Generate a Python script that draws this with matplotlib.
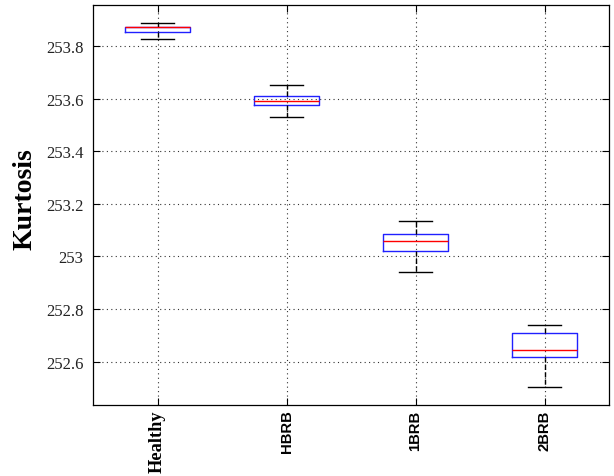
import matplotlib
matplotlib.use("Agg")
from matplotlib import pyplot as plt

# values
categories = ["Healthy", "HBRB", "1BRB", "2BRB"]
whis_lo = [253.827, 253.531, 252.939, 252.504]
q1 = [253.853, 253.574, 253.019, 252.616]
medians = [253.872, 253.592, 253.060, 252.643]
q3 = [253.874, 253.610, 253.084, 252.708]
whis_hi = [253.888, 253.652, 253.134, 252.738]
y_ticks = [252.6, 252.8, 253.0, 253.2, 253.4, 253.6, 253.8]
y_tick_labels = ["252.6", "252.8", "253", "253.2", "253.4", "253.6", "253.8"]

stats = []
for i in range(len(categories)):
    stats.append({"label": categories[i], "whislo": whis_lo[i], "q1": q1[i],
                  "med": medians[i], "q3": q3[i], "whishi": whis_hi[i],
                  "fliers": []})

fig = plt.figure(figsize=(6.14, 4.77), dpi=100)
ax = fig.add_axes([0.1515, 0.1495, 0.8404, 0.8379])

ax.bxp(stats, positions=[1, 2, 3, 4], widths=0.5, showfliers=False,
       boxprops=dict(color="#2020ff", linewidth=1.0),
       medianprops=dict(color="red", linewidth=1.0),
       whiskerprops=dict(color="black", linewidth=1.0, linestyle="--"),
       capprops=dict(color="black", linewidth=1.0),
       capwidths=0.25)

ax.set_xlim(0.5, 4.5)
ax.set_ylim(252.436, 253.956)
ax.set_yticks(y_ticks)
ax.set_yticklabels(y_tick_labels, fontfamily="Liberation Serif", fontsize=12,
                   color="#222222")
ax.set_xticks([1, 2, 3, 4])
ax.set_xticklabels(categories, rotation=90, fontweight="bold")
labels = ax.get_xticklabels()
labels[0].set_fontfamily("Liberation Serif")
labels[0].set_fontsize(13.2)
for lab in labels[1:]:
    lab.set_fontfamily("Liberation Sans")
    lab.set_fontsize(10.7)

ax.grid(True, linestyle=(0, (1, 3)), color="#333333", linewidth=0.8)
ax.tick_params(direction="in", length=5, top=True, right=True, width=0.8)
ax.tick_params(axis="y", pad=7)
for sp in ax.spines.values():
    sp.set_linewidth(0.9)

ax.set_ylabel("Kurtosis", fontfamily="Liberation Serif", fontweight="bold",
              fontsize=20)
ax.yaxis.set_label_coords(-0.108, 0.518)

fig.savefig("out.png", dpi=100)
